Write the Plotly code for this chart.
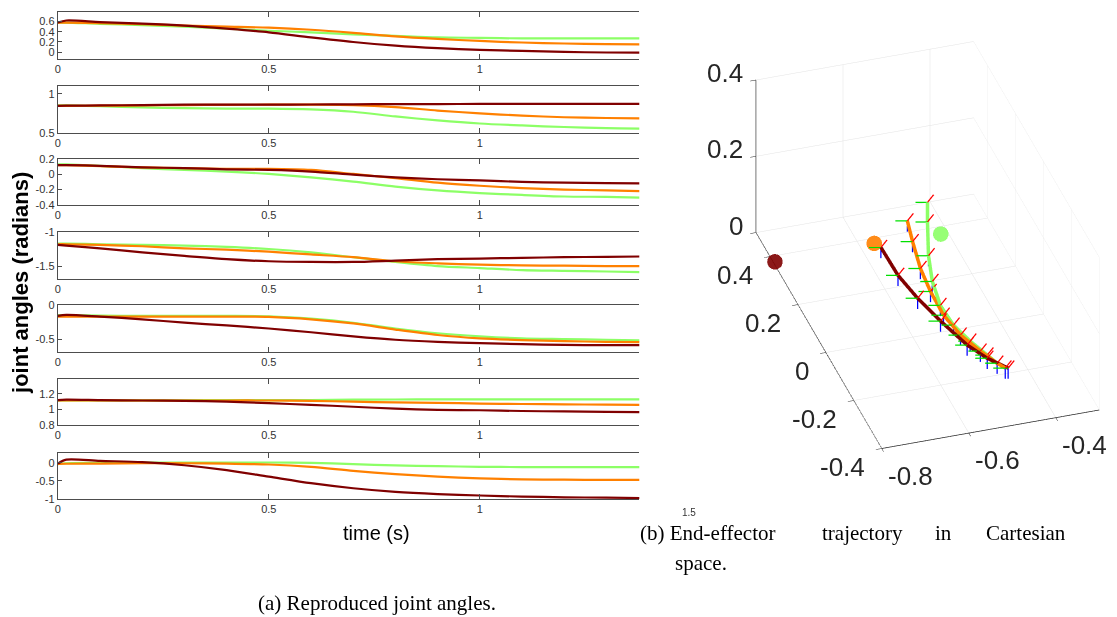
import plotly.graph_objects as go

W, H = 1117, 617

# ---------------- left: joint angles ----------------
t = [0, 0.02, 0.1, 0.2, 0.3, 0.4, 0.5, 0.6, 0.7, 0.8, 0.9, 1.0, 1.1, 1.2, 1.3, 1.38]

j1_maroon = [0.58, 0.62, 0.59, 0.56, 0.52, 0.46, 0.39, 0.29, 0.20, 0.13, 0.08, 0.045, 0.025, 0.006, -0.006, -0.01]
j1_orange = [0.58, 0.58, 0.57, 0.55, 0.52, 0.50, 0.48, 0.44, 0.38, 0.31, 0.26, 0.22, 0.19, 0.17, 0.16, 0.155]
j1_green = [0.58, 0.58, 0.555, 0.53, 0.50, 0.46, 0.42, 0.39, 0.35, 0.32, 0.29, 0.28, 0.27, 0.27, 0.27, 0.27]

j2_maroon = [0.845, 0.847, 0.85, 0.855, 0.86, 0.86, 0.86, 0.862, 0.865, 0.867, 0.868, 0.87, 0.87, 0.87, 0.87, 0.87]
j2_orange = [0.845, 0.845, 0.848, 0.85, 0.855, 0.858, 0.86, 0.86, 0.855, 0.83, 0.785, 0.75, 0.72, 0.70, 0.69, 0.685]
j2_green = [0.85, 0.85, 0.84, 0.825, 0.815, 0.81, 0.81, 0.80, 0.77, 0.71, 0.66, 0.62, 0.595, 0.575, 0.56, 0.555]

j3_maroon = [0.12, 0.12, 0.11, 0.09, 0.08, 0.065, 0.056, 0.035, -0.005, -0.04, -0.065, -0.08, -0.1, -0.11, -0.115, -0.12]
j3_orange = [0.12, 0.12, 0.105, 0.09, 0.08, 0.07, 0.07, 0.056, 0.004, -0.05, -0.11, -0.15, -0.18, -0.2, -0.21, -0.22]
j3_green = [0.13, 0.13, 0.11, 0.08, 0.056, 0.035, 0.004, -0.04, -0.095, -0.16, -0.21, -0.245, -0.27, -0.29, -0.295, -0.305]

j4_maroon = [-1.19, -1.20, -1.24, -1.30, -1.35, -1.40, -1.43, -1.44, -1.44, -1.42, -1.40, -1.39, -1.38, -1.37, -1.365, -1.36]
j4_orange = [-1.18, -1.18, -1.19, -1.21, -1.24, -1.26, -1.29, -1.33, -1.37, -1.43, -1.46, -1.48, -1.49, -1.495, -1.5, -1.5]
j4_green = [-1.17, -1.17, -1.18, -1.19, -1.20, -1.22, -1.25, -1.30, -1.37, -1.44, -1.50, -1.53, -1.56, -1.57, -1.58, -1.59]

j5_maroon = [-0.16, -0.145, -0.17, -0.21, -0.26, -0.30, -0.345, -0.40, -0.46, -0.51, -0.54, -0.56, -0.575, -0.585, -0.59, -0.59]
j5_orange = [-0.17, -0.17, -0.17, -0.17, -0.17, -0.17, -0.175, -0.21, -0.27, -0.36, -0.44, -0.49, -0.515, -0.53, -0.54, -0.545]
j5_green = [-0.15, -0.15, -0.155, -0.16, -0.16, -0.16, -0.165, -0.20, -0.26, -0.345, -0.415, -0.46, -0.49, -0.50, -0.51, -0.52]

j6_maroon = [1.12, 1.125, 1.12, 1.115, 1.11, 1.10, 1.08, 1.06, 1.035, 1.01, 0.995, 0.99, 0.98, 0.975, 0.97, 0.965]
j6_orange = [1.115, 1.115, 1.115, 1.115, 1.115, 1.115, 1.115, 1.11, 1.10, 1.09, 1.085, 1.075, 1.07, 1.065, 1.062, 1.06]
j6_green = [1.115, 1.115, 1.115, 1.117, 1.118, 1.12, 1.12, 1.12, 1.125, 1.128, 1.13, 1.13, 1.13, 1.13, 1.13, 1.13]

j7_maroon = [-0.02, 0.09, 0.055, 0.02, -0.065, -0.2, -0.38, -0.56, -0.7, -0.8, -0.86, -0.9, -0.93, -0.95, -0.96, -0.97]
j7_orange = [-0.03, -0.025, -0.02, -0.01, -0.01, -0.02, -0.045, -0.11, -0.22, -0.31, -0.38, -0.43, -0.455, -0.465, -0.47, -0.47]
j7_green = [-0.035, -0.01, 0.0, 0.005, 0.01, 0.01, 0.01, 0.0, -0.035, -0.07, -0.09, -0.11, -0.115, -0.12, -0.12, -0.12]

joints = [
    (j1_maroon, j1_orange, j1_green),
    (j2_maroon, j2_orange, j2_green),
    (j3_maroon, j3_orange, j3_green),
    (j4_maroon, j4_orange, j4_green),
    (j5_maroon, j5_orange, j5_green),
    (j6_maroon, j6_orange, j6_green),
    (j7_maroon, j7_orange, j7_green),
]
y_ranges = [[-0.13, 0.79], [0.5, 1.10], [-0.4, 0.2], [-1.69, -1.0], [-0.69, 0.0], [0.8, 1.39], [-1.0, 0.27]]
y_ticks = [
    [0, 0.2, 0.4, 0.6],
    [0.5, 1],
    [-0.4, -0.2, 0, 0.2],
    [-1.5, -1],
    [-0.5, 0],
    [0.8, 1, 1.2],
    [-1, -0.5, 0],
]
x_ticks = [0, 0.5, 1]
t_range = [0, 1.378]

MAROON = "#800000"
ORANGE = "#ff8000"
GREEN = "#8cff66"

# panel pixel extents (top, bottom)
panel_px = [(12, 59), (86, 133), (159, 205), (232, 279), (305, 352), (379, 425), (453, 499)]
X0, X1 = 55, 638

TICKFONT = dict(family="Liberation Sans, Arial", size=11, color="#333333")


def fmt(v):
    return "%g" % v


def py(ypx):
    # pixel row -> paper fraction (with small vertical correction)
    return 1 - (308.5 + (ypx - 308.5) / 0.98) / H


fig = go.Figure()
layout = {}
for i, (series, yr, yt, (top, bot)) in enumerate(zip(joints, y_ranges, y_ticks, panel_px)):
    n = i + 1
    xa = "x" if n == 1 else "x%d" % n
    ya = "y" if n == 1 else "y%d" % n
    for vals, col in [(series[2], GREEN), (series[1], ORANGE), (series[0], MAROON)]:
        fig.add_trace(go.Scatter(x=t, y=vals, mode="lines", xaxis=xa, yaxis=ya,
                                 line=dict(color=col, width=2.2, shape="spline", smoothing=0.8),
                                 showlegend=False, hoverinfo="skip"))
    layout["xaxis" if n == 1 else "xaxis%d" % n] = dict(
        domain=[X0 / W, X1 / W], anchor=ya, range=t_range,
        tickvals=x_ticks, ticktext=[fmt(v) for v in x_ticks],
        ticks="inside", ticklen=5, tickcolor="#4d4d4d", tickwidth=1,
        showline=True, linecolor="#4d4d4d", linewidth=1.2, mirror="ticks",
        showgrid=False, zeroline=False, tickfont=TICKFONT,
    )
    layout["yaxis" if n == 1 else "yaxis%d" % n] = dict(
        domain=[py(bot), py(top)], anchor=xa, range=yr,
        tickvals=yt, ticktext=[fmt(v) for v in yt],
        ticks="inside", ticklen=4, tickcolor="#4d4d4d",
        showline=True, linecolor="#4d4d4d", linewidth=1.2,
        showgrid=False, zeroline=False, tickfont=TICKFONT,
    )

# ---------------- right: end-effector trajectory (3D) ----------------
traj_maroon_x = [-0.604, -0.593, -0.573, -0.546, -0.515, -0.487, -0.453]
traj_maroon_y = [0.216, 0.128, 0.050, -0.030, -0.124, -0.180, -0.224]
traj_maroon_z = [0.10, 0.08, 0.065, 0.05, 0.04, 0.035, 0.03]

traj_orange_x = [-0.526, -0.531, -0.538, -0.538, -0.535, -0.519, -0.494, -0.471, -0.459]
traj_orange_y = [0.270, 0.217, 0.139, 0.067, -0.017, -0.089, -0.153, -0.201, -0.222]
traj_orange_z = [0.12, 0.10, 0.08, 0.065, 0.055, 0.045, 0.038, 0.032, 0.03]

traj_green_x = [-0.480, -0.490, -0.515, -0.529, -0.532, -0.524, -0.504, -0.483, -0.470, -0.459]
traj_green_y = [0.269, 0.238, 0.153, 0.082, 0.015, -0.054, -0.111, -0.168, -0.198, -0.222]
traj_green_z = [0.16, 0.13, 0.10, 0.08, 0.06, 0.05, 0.04, 0.035, 0.03, 0.03]

sphere_x = [-0.796, -0.59, -0.44]
sphere_y = [0.378, 0.309, 0.30]
sphere_z = [0.0, 0.05, 0.05]
sphere_colors = [MAROON, ORANGE, GREEN]

# orientation frame axis directions (red, green, blue)
frame_red = (0.014, 0.0, 0.017)
frame_green = (-0.025, 0.008, 0.0)
frame_blue = (0.0, 0.0, -0.028)

trajs = [
    (traj_green_x, traj_green_y, traj_green_z, GREEN),
    (traj_orange_x, traj_orange_y, traj_orange_z, ORANGE),
    (traj_maroon_x, traj_maroon_y, traj_maroon_z, MAROON),
]

for dvec, col in [(frame_green, "#00e000"), (frame_red, "#ff0000"), (frame_blue, "#0000ff")]:
    fx, fy, fz = [], [], []
    for tx, ty, tz, _ in trajs:
        for a, b, c in zip(tx, ty, tz):
            fx += [a, a + dvec[0], None]
            fy += [b, b + dvec[1], None]
            fz += [c, c + dvec[2], None]
    fig.add_trace(go.Scatter3d(x=fx, y=fy, z=fz, mode="lines", line=dict(color=col, width=2.5),
                               showlegend=False, hoverinfo="skip", scene="scene"))

for tx, ty, tz, col in trajs:
    fig.add_trace(go.Scatter3d(x=tx, y=ty, z=tz, mode="lines", line=dict(color=col, width=7),
                               showlegend=False, hoverinfo="skip", scene="scene"))

fig.add_trace(go.Scatter3d(x=sphere_x, y=sphere_y, z=sphere_z, mode="markers",
                           marker=dict(size=9, color=sphere_colors, opacity=0.9, line=dict(width=0)),
                           showlegend=False, hoverinfo="skip", scene="scene"))

common3d = dict(showgrid=True, gridcolor="#e3e3e3", gridwidth=1, showline=True, linecolor="#262626",
                linewidth=1.5, showbackground=False, zeroline=False, title=dict(text=""),
                ticks="outside", ticklen=6, tickcolor="#262626", showticklabels=False,
                showspikes=False)

xt3 = [-0.8, -0.6, -0.4]
yt3 = [-0.4, -0.2, 0, 0.2, 0.4]
zt3 = [0, 0.2, 0.4]
x_lim3 = [-0.8, -0.3]
y_lim3 = [-0.4, 0.5]
z_lim3 = [0, 0.4]

# tick labels of the 3D axes, anchored at the tick positions in data space
LBL = dict(family="Liberation Sans, Arial, Helvetica", size=26, color="#262626")
scene_ann = []
for v in zt3:
    scene_ann.append(dict(x=x_lim3[0], y=y_lim3[1], z=v, text=fmt(v), showarrow=False,
                          xanchor="right", yanchor="middle", xshift=-11, yshift=7, font=LBL))
for v in yt3:
    scene_ann.append(dict(x=x_lim3[0], y=v, z=z_lim3[0], text=fmt(v), showarrow=False,
                          xanchor="right", yanchor="middle", xshift=-15, yshift=-18, font=LBL))
for v in xt3:
    scene_ann.append(dict(x=v, y=y_lim3[0], z=z_lim3[0], text=fmt(v), showarrow=False,
                          xanchor="center", yanchor="middle", xshift=29, yshift=-27, font=LBL))

# camera: view direction and screen offsets
view_dir = (-0.255, -0.794, 0.551)
R_vec = (0.952, -0.306, 0.0)
U_vec = (0.1686, 0.5245, 0.8345)
r = 2.2
shift_right, shift_up = -0.0904, -0.0245
center = {k: shift_right * R_vec[i] + shift_up * U_vec[i] for i, k in enumerate("xyz")}
eye = {k: center[k] + r * view_dir[i] for i, k in enumerate("xyz")}
zoom = 1.0 / 1.34

layout["scene"] = dict(
    domain=dict(x=[0.62, 1.0], y=[0.19, 1.0]),
    xaxis=dict(range=x_lim3, tickvals=xt3, **common3d),
    yaxis=dict(range=y_lim3, tickvals=yt3, **common3d),
    zaxis=dict(range=z_lim3, tickvals=zt3, **common3d),
    aspectmode="manual", aspectratio=dict(x=1.25 * zoom, y=2.25 * zoom, z=1.0 * zoom),
    camera=dict(eye=eye, up=dict(x=0, y=0, z=1), center=center,
                projection=dict(type="orthographic")),
    bgcolor="rgba(0,0,0,0)",
    annotations=scene_ann,
)

SERIF = dict(family="Liberation Serif, Times New Roman", size=21, color="#000000")
annotations = [
    dict(text="time (s)", x=375 / W, y=py(533), xref="paper", yref="paper", showarrow=False,
         font=dict(family="Liberation Sans, Arial", size=20, color="#000000"),
         xanchor="center", yanchor="middle"),
    dict(text="<b>joint angles (radians)</b>", x=18 / W, y=py(283), xref="paper", yref="paper",
         showarrow=False, textangle=-90,
         font=dict(family="Liberation Sans, Arial", size=22, color="#000000"),
         xanchor="center", yanchor="middle"),
    dict(text="1.5", x=688 / W, y=py(512), xref="paper", yref="paper", showarrow=False,
         font=dict(family="Liberation Sans, Arial", size=10, color="#333333"),
         xanchor="center", yanchor="middle"),
    dict(text="(a) Reproduced joint angles.", x=375 / W, y=py(603), xref="paper", yref="paper",
         showarrow=False, font=SERIF, xanchor="center", yanchor="middle"),
    dict(text="(b) End-effector", x=637 / W, y=py(533), xref="paper", yref="paper", showarrow=False,
         font=SERIF, xanchor="left", yanchor="middle"),
    dict(text="trajectory", x=862 / W, y=py(533), xref="paper", yref="paper", showarrow=False,
         font=SERIF, xanchor="center", yanchor="middle"),
    dict(text="in", x=943 / W, y=py(533), xref="paper", yref="paper", showarrow=False,
         font=SERIF, xanchor="center", yanchor="middle"),
    dict(text="Cartesian", x=1068 / W, y=py(533), xref="paper", yref="paper", showarrow=False,
         font=SERIF, xanchor="right", yanchor="middle"),
    dict(text="space.", x=672 / W, y=py(563), xref="paper", yref="paper", showarrow=False,
         font=SERIF, xanchor="left", yanchor="middle"),
]

fig.update_layout(width=W, height=H, margin=dict(l=0, r=0, t=0, b=0),
                  paper_bgcolor="white", plot_bgcolor="white", showlegend=False,
                  annotations=annotations, **layout)

fig.write_html("out.html", config={"displayModeBar": False},
               post_script="document.body.style.margin='0px';document.body.style.overflow='hidden';")
